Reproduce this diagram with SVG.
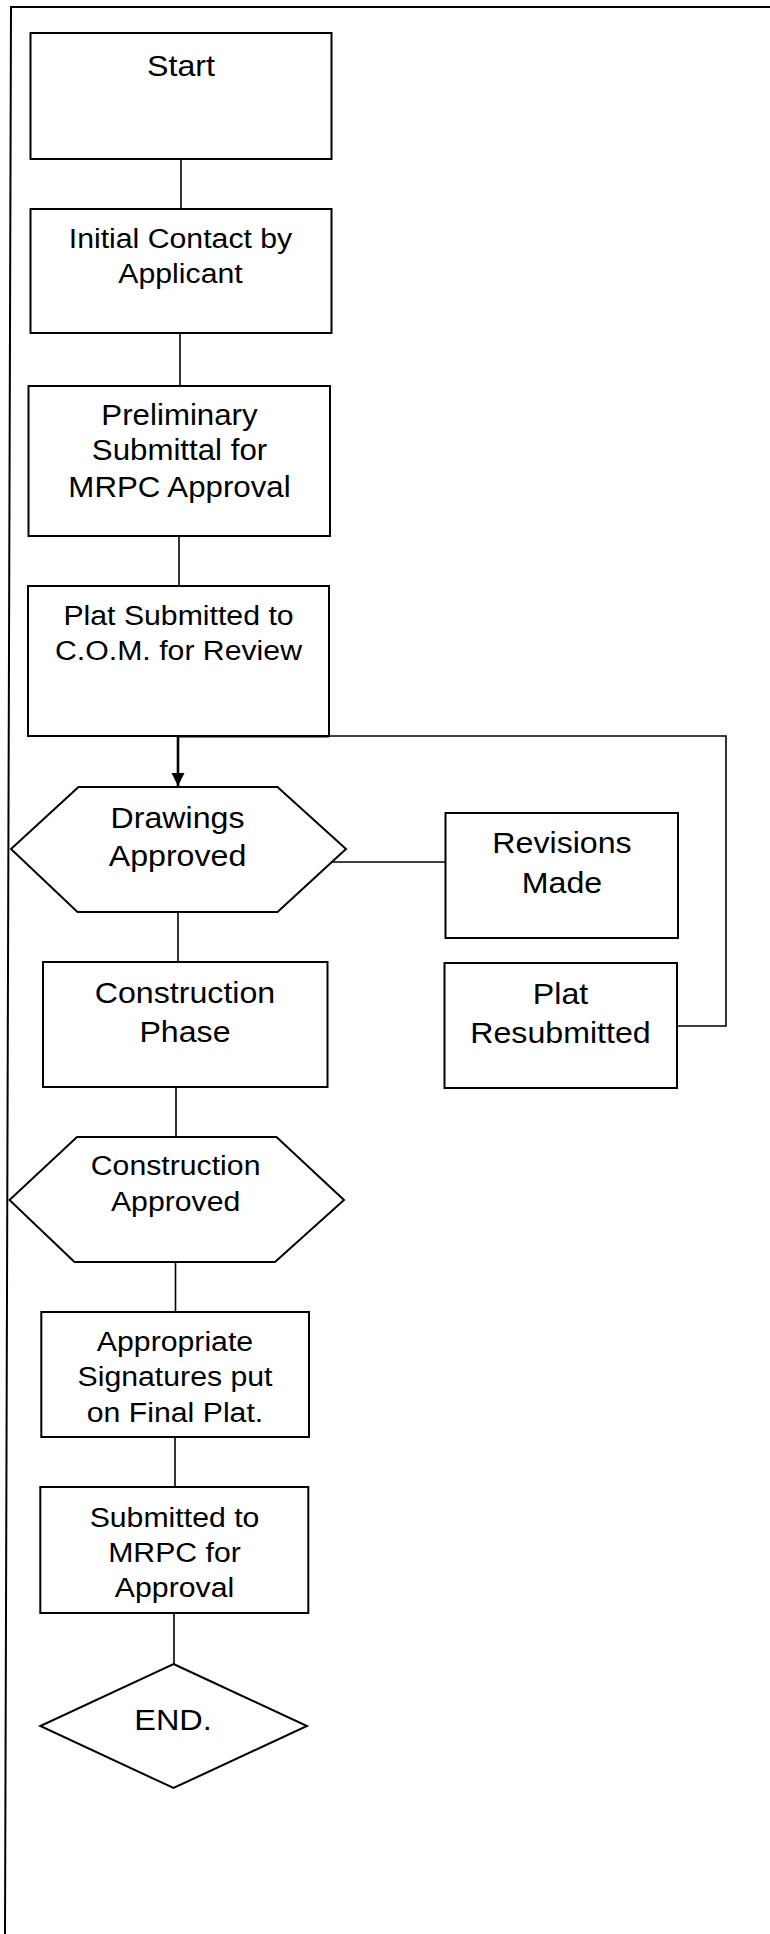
<svg xmlns="http://www.w3.org/2000/svg" width="770" height="1934" viewBox="0 0 770 1934">
<style>
.n{fill:#fff;stroke:#000;stroke-width:2}
.c{fill:none;stroke:#000;stroke-width:1.6}
.t{font-family:"Liberation Sans",Arial,sans-serif;fill:#000;text-anchor:middle}
.s{font-size:27px}
.l{font-size:29.5px}
</style>
<defs>
<marker id="ah" viewBox="0 0 10 10" refX="10" refY="5" markerWidth="5" markerHeight="6" markerUnits="strokeWidth" orient="auto">
<path d="M0,0 L10,5 L0,10 z" fill="#000"/>
</marker>
</defs>
<rect width="770" height="1934" fill="#fff"/>
<path d="M770,7 L11,7 L5,1934" fill="none" stroke="#000" stroke-width="2"/>
<g id="connectors">
<line class="c" x1="181" y1="159" x2="181" y2="209"/>
<line class="c" x1="180" y1="333" x2="180" y2="386"/>
<line class="c" x1="179" y1="536" x2="179" y2="586"/>
<line x1="178" y1="736" x2="178" y2="786" stroke="#000" stroke-width="2.6" marker-end="url(#ah)"/>
<path class="c" d="M178,736 L726,736 L726,1026 L678,1026"/>
<line x1="178" y1="736" x2="329" y2="736" stroke="#000" stroke-width="3"/>
<line class="c" x1="333" y1="862" x2="445.5" y2="862"/>
<line class="c" x1="178" y1="912" x2="178" y2="962"/>
<line class="c" x1="176" y1="1087" x2="176" y2="1137"/>
<line class="c" x1="175.5" y1="1262" x2="175.5" y2="1312"/>
<line class="c" x1="175" y1="1437" x2="175" y2="1487"/>
<line class="c" x1="174" y1="1613" x2="174" y2="1664"/>
</g>
<g id="start">
<rect class="n" x="30.5" y="33" width="301" height="126"/>
<text class="t l" transform="translate(181,76) scale(1.09,1)">Start</text>
</g>
<g id="initial-contact">
<rect class="n" x="30.5" y="209" width="301" height="124"/>
<text class="t s" transform="translate(180.5,248) scale(1.12,1)"><tspan x="0" y="0">Initial Contact by</tspan><tspan x="0" y="35.5">Applicant</tspan></text>
</g>
<g id="preliminary">
<rect class="n" x="28.5" y="386" width="301.5" height="150"/>
<text class="t l" transform="translate(179.5,425) scale(1.06,1)"><tspan x="0" y="0">Preliminary</tspan><tspan x="0" y="35.5">Submittal for</tspan><tspan x="0" y="72">MRPC Approval</tspan></text>
</g>
<g id="plat-submitted">
<rect class="n" x="28" y="586" width="301" height="150"/>
<text class="t s" transform="translate(178.5,625) scale(1.12,1)"><tspan x="0" y="0">Plat Submitted to</tspan><tspan x="0" y="35">C.O.M. for Review</tspan></text>
</g>
<g id="drawings-approved">
<polygon class="n" points="78.5,787 277.5,787 346,849 277.5,912 77.5,912 11,849"/>
<text class="t l" transform="translate(177.5,828) scale(1.09,1)"><tspan x="0" y="0">Drawings</tspan><tspan x="0" y="38">Approved</tspan></text>
</g>
<g id="revisions-made">
<rect class="n" x="445.5" y="813" width="232.5" height="125"/>
<text class="t l" transform="translate(562,853) scale(1.09,1)"><tspan x="0" y="0">Revisions</tspan><tspan x="0" y="40">Made</tspan></text>
</g>
<g id="construction-phase">
<rect class="n" x="43" y="962" width="284.5" height="125"/>
<text class="t l" transform="translate(185,1003) scale(1.09,1)"><tspan x="0" y="0">Construction</tspan><tspan x="0" y="39">Phase</tspan></text>
</g>
<g id="plat-resubmitted">
<rect class="n" x="444.5" y="963" width="232.5" height="125"/>
<text class="t l" transform="translate(560.5,1004) scale(1.09,1)"><tspan x="0" y="0">Plat</tspan><tspan x="0" y="39">Resubmitted</tspan></text>
</g>
<g id="construction-approved">
<polygon class="n" points="77,1137 276.5,1137 344,1200 275,1262 74.5,1262 9.5,1200"/>
<text class="t s" transform="translate(175.6,1175) scale(1.12,1)"><tspan x="0" y="0">Construction</tspan><tspan x="0" y="36">Approved</tspan></text>
</g>
<g id="appropriate-signatures">
<rect class="n" x="41.3" y="1312" width="267.7" height="125"/>
<text class="t s" transform="translate(175,1351) scale(1.12,1)"><tspan x="0" y="0">Appropriate</tspan><tspan x="0" y="35.5">Signatures put</tspan><tspan x="0" y="71">on Final Plat.</tspan></text>
</g>
<g id="submitted-mrpc">
<rect class="n" x="40.3" y="1487" width="268" height="126"/>
<text class="t s" transform="translate(174.5,1527) scale(1.12,1)"><tspan x="0" y="0">Submitted to</tspan><tspan x="0" y="35">MRPC for</tspan><tspan x="0" y="70">Approval</tspan></text>
</g>
<g id="end">
<polygon class="n" points="173.5,1664 307,1726 173.5,1788 40.3,1726"/>
<text class="t l" transform="translate(173,1730) scale(1.1,1)">END.</text>
</g>
</svg>
